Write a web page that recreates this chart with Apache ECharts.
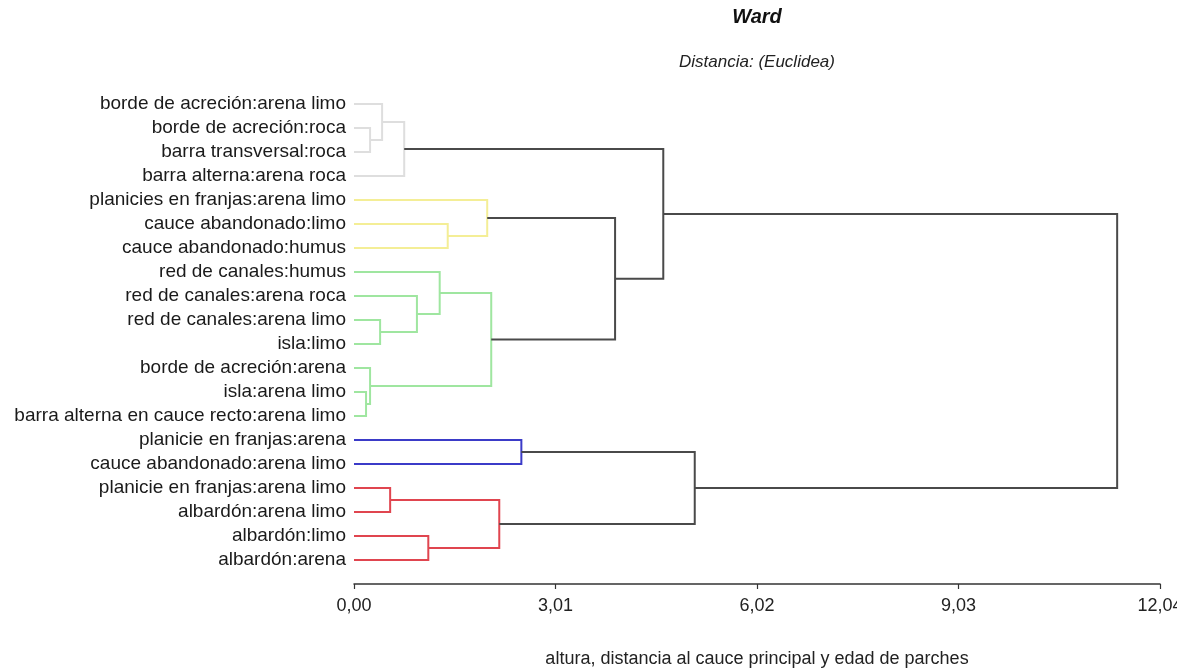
<!DOCTYPE html>
<html>
<head>
<meta charset="utf-8">
<script src="https://cdn.jsdelivr.net/npm/echarts@6/dist/echarts.min.js"></script>
<style>html,body{margin:0;padding:0;background:#fff;}#c{width:1177px;height:669px;}</style>
</head>
<body>
<div id="c"></div>
<script>
// Leaves (top to bottom)
var leaves = [
  'borde de acreción:arena limo',
  'borde de acreción:roca',
  'barra transversal:roca',
  'barra alterna:arena roca',
  'planicies en franjas:arena limo',
  'cauce abandonado:limo',
  'cauce abandonado:humus',
  'red de canales:humus',
  'red de canales:arena roca',
  'red de canales:arena limo',
  'isla:limo',
  'borde de acreción:arena',
  'isla:arena limo',
  'barra alterna en cauce recto:arena limo',
  'planicie en franjas:arena',
  'cauce abandonado:arena limo',
  'planicie en franjas:arena limo',
  'albardón:arena limo',
  'albardón:limo',
  'albardón:arena'
];
// Merges: child A, child B (index < 20 = leaf, >= 20 = merge 20+k), height
var mergeA = [1, 0, 21, 5, 4, 9, 8, 7, 12, 11, 27, 24, 22, 14, 16, 18, 34, 33, 32];
var mergeB = [2, 20, 3, 6, 23, 10, 25, 26, 13, 28, 29, 30, 31, 15, 17, 19, 35, 36, 37];
var mergeHeight = [0.24, 0.42, 0.75, 1.40, 1.99, 0.39, 0.94, 1.28, 0.18, 0.24, 2.05, 3.90, 4.62, 2.50, 0.54, 1.11, 2.17, 5.09, 11.40];
var mergeGroup = ['grey','grey','grey','yellow','yellow','green','green','green','green','green','green','black','black','blue','red','red','red','black','black'];
// Axis ticks
var xMin = 0, xMax = 12.04, xStep = 3.01;

var palette = {grey:'#dedede', yellow:'#f4ee96', green:'#9fe6a0', blue:'#3b3bc8', red:'#e0454f', black:'#4a4a4a'};

var n = leaves.length;
var nodeY = [], nodeH = [];
for (var i = 0; i < n; i++) { nodeY.push(i); nodeH.push(0); }
var linkData = [];
for (var k = 0; k < mergeA.length; k++) {
  var a = mergeA[k], b = mergeB[k], h = mergeHeight[k];
  linkData.push({
    coords: [[nodeH[a], nodeY[a]], [h, nodeY[a]], [h, nodeY[b]], [nodeH[b], nodeY[b]]],
    lineStyle: {color: palette[mergeGroup[k]]}
  });
  nodeY.push((nodeY[a] + nodeY[b]) / 2);
  nodeH.push(h);
}

var chart = echarts.init(document.getElementById('c'), null, {renderer: 'canvas'});
chart.setOption({
  animation: false,
  backgroundColor: '#fff',
  graphic: [
    {type: 'text', x: 757, y: 7, style: {text: 'Ward', font: 'italic bold 20px "Liberation Sans", Arial, sans-serif', fill: '#111', textAlign: 'center'}},
    {type: 'text', x: 757, y: 54, style: {text: 'Distancia: (Euclidea)', font: 'italic 17px "Liberation Sans", Arial, sans-serif', fill: '#222', textAlign: 'center'}}
  ],
  grid: {left: 354, right: 17, top: 92, height: 480, containLabel: false, outerBoundsMode: 'none'},
  xAxis: {
    type: 'value', min: xMin, max: xMax, interval: xStep, offset: 12,
    axisLine: {show: true, onZero: false, lineStyle: {color: '#333', width: 1.5}},
    axisTick: {show: true, length: 5, lineStyle: {color: '#333', width: 1.2}},
    splitLine: {show: false},
    axisLabel: {fontSize: 18, color: '#222', fontFamily: '"Liberation Sans", Arial, sans-serif', margin: 13,
      formatter: function (v) { return v.toFixed(2).replace('.', ','); }},
    name: 'altura, distancia al cauce principal y edad de parches',
    nameLocation: 'middle', nameGap: 66,
    nameTextStyle: {fontSize: 18, color: '#222', fontFamily: '"Liberation Sans", Arial, sans-serif'}
  },
  yAxis: [
    {type: 'category', data: leaves, inverse: true, boundaryGap: true,
      axisLine: {show: false}, axisTick: {show: false}, splitLine: {show: false},
      axisLabel: {interval: 0, fontSize: 19, color: '#1a1a1a', margin: 8, fontFamily: '"Liberation Sans", Arial, sans-serif'}},
    {type: 'value', min: -0.5, max: n - 0.5, inverse: true, show: false, splitLine: {show: false}}
  ],
  series: [{
    type: 'lines', coordinateSystem: 'cartesian2d', xAxisIndex: 0, yAxisIndex: 1,
    polyline: true, silent: true,
    lineStyle: {width: 2, opacity: 1},
    data: linkData
  }]
});
</script>
</body>
</html>
